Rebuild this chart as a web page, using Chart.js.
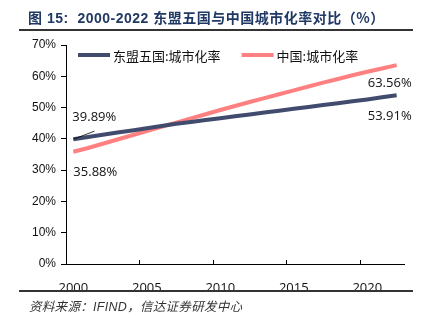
<!DOCTYPE html>
<html><head><meta charset="utf-8">
<script src="https://cdn.jsdelivr.net/npm/chart.js@4.4.1/dist/chart.umd.min.js"></script>
<style>
html,body{margin:0;padding:0;background:#fff;}
#wrap{position:relative;width:433px;height:327px;overflow:hidden;}
#c{position:absolute;left:0;top:0;}
#title{position:absolute;left:28px;top:7px;font:bold 14px "Liberation Sans","Noto Sans CJK SC",sans-serif;color:#1F3864;white-space:nowrap;letter-spacing:0.5px;}
#title .cjk{font-family:"Noto Sans CJK SC",sans-serif;}
.rule{position:absolute;left:19px;width:394px;height:2px;background:#333;}
#foot{position:absolute;left:29px;top:296px;font:italic 12.5px "Liberation Sans","Noto Sans CJK SC",sans-serif;color:#333;white-space:nowrap;letter-spacing:0.3px;}
</style></head>
<body><div id="wrap">
<canvas id="c" width="433" height="327"></canvas>
<div id="title"><span class="cjk">图</span> 15:&nbsp; 2000-2022 <span class="cjk">东盟五国与中国城市化率对比（%）</span></div>
<div class="rule" style="top:29px"></div>
<div class="rule" style="top:290px"></div>
<div id="foot">资料来源：IFIND，信达证券研发中心</div>
</div>
<script>
const years = ['2000','2001','2002','2003','2004','2005','2006','2007','2008','2009','2010','2011','2012','2013','2014','2015','2016','2017','2018','2019','2020','2021','2022'];
const aseanRate = [39.89,40.6,41.3,42.0,42.7,43.4,44.1,44.8,45.4,46.0,46.6,47.2,47.8,48.4,49.0,49.6,50.2,50.8,51.4,52.0,52.6,53.3,53.91];
const chinaRate = [35.88,37.09,38.43,39.78,41.14,42.52,43.87,45.20,46.54,47.88,49.23,50.51,51.77,53.01,54.26,55.50,56.74,57.96,59.15,60.31,61.43,62.51,63.56];
const seriesNames = ['东盟五国:城市化率','中国:城市化率'];
const yTicks = [0,10,20,30,40,50,60,70];

const colors = ['#414B6E','#FF8080'];

const overlay = {
  id:'overlay',
  afterDatasetsDraw(chart){
    const ctx = chart.ctx, ca = chart.chartArea, xs = chart.scales.x;
    ctx.save();
    const half = (xs.getPixelForValue(1)-xs.getPixelForValue(0))/2;
    ctx.strokeStyle='#000'; ctx.lineWidth=1;
    for(let i=0;i<years.length;i+=5){
      const x = Math.round(xs.getPixelForValue(i)-half)+0.5;
      ctx.beginPath(); ctx.moveTo(x,ca.bottom); ctx.lineTo(x,ca.bottom-4); ctx.stroke();
    }
    ctx.font='13px "Open Sans", sans-serif';
    ctx.fillStyle='#111'; ctx.textBaseline='middle';
    const m0 = chart.getDatasetMeta(0).data, m1 = chart.getDatasetMeta(1).data;
    const d0 = chart.data.datasets[0].data, d1 = chart.data.datasets[1].data;
    const n = d0.length-1;
    const fmt = v => v.toFixed(2)+'%';
    let p = m0[0];
    ctx.textAlign='left';
    ctx.fillText(fmt(d0[0]), p.x-1, p.y-22);
    ctx.beginPath(); ctx.moveTo(p.x,p.y); ctx.lineTo(p.x+21,p.y-8); ctx.strokeStyle='#000'; ctx.lineWidth=0.8; ctx.stroke();
    p = m1[0];
    ctx.fillText(fmt(d1[0]), p.x, p.y+21);
    ctx.textAlign='right';
    p = m1[n]; ctx.fillText(fmt(d1[n]), p.x+15, p.y+18);
    p = m0[n]; ctx.fillText(fmt(d0[n]), p.x+15, p.y+21);
    ctx.font='13px "Noto Sans CJK SC", sans-serif';
    ctx.textAlign='left';
    let lx = ca.left+12; const ly = ca.top+10;
    chart.data.datasets.forEach((ds,i)=>{
      ctx.strokeStyle=ds.borderColor; ctx.lineWidth=4;
      ctx.beginPath(); ctx.moveTo(lx,ly); ctx.lineTo(lx+32,ly); ctx.stroke();
      ctx.fillStyle='#111';
      ctx.fillText(ds.label, lx+35, ly+1);
      lx += 35 + ctx.measureText(ds.label).width + 21;
    });
    ctx.restore();
  }
};

new Chart(document.getElementById('c'),{
  type:'line',
  data:{labels:years,datasets:[
    {label:seriesNames[0],data:aseanRate,borderColor:colors[0],backgroundColor:colors[0],borderWidth:4,pointRadius:0,tension:0},
    {label:seriesNames[1],data:chinaRate,borderColor:colors[1],backgroundColor:colors[1],borderWidth:4,pointRadius:0,tension:0}
  ]},
  options:{
    responsive:false,animation:false,
    layout:{padding:{left:0,right:29,top:45,bottom:33}},
    plugins:{legend:{display:false},tooltip:{enabled:false}},
    scales:{
      x:{type:'category',offset:true,
        grid:{display:false},
        border:{display:true,color:'#000',width:1},
        ticks:{autoSkip:false,maxRotation:0,padding:8,color:'#111',font:{family:'"Open Sans"',size:13},
          callback:function(v,i){return i%5===0?years[i]:'';}},
        afterFit(s){s.height=30;}
      },
      y:{min:0,max:70,
        afterBuildTicks(s){s.ticks=yTicks.map(v=>({value:v}));},
        grid:{drawOnChartArea:false,drawTicks:true,tickLength:5,color:'#000'},
        border:{display:true,color:'#000',width:1},
        ticks:{padding:5,color:'#111',font:{family:'"Liberation Sans"',size:12},callback:v=>v+'%'},
        afterFit(s){s.width=66;}
      }
    }
  },
  plugins:[overlay]
});
</script>
</body></html>
